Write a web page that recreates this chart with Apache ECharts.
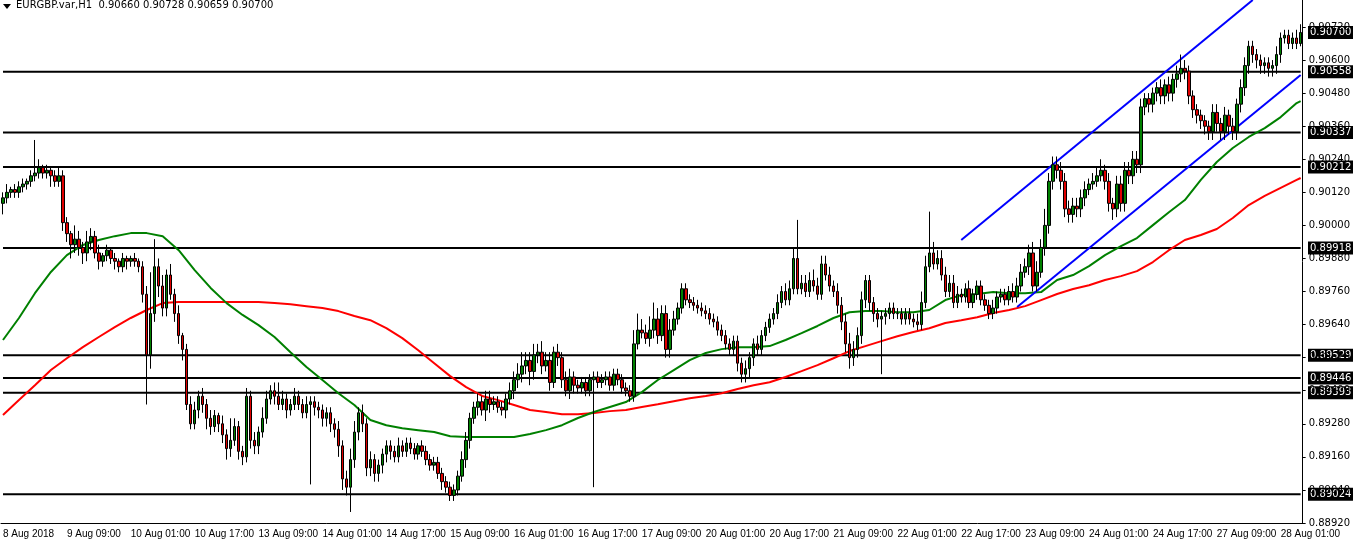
<!DOCTYPE html>
<html><head><meta charset="utf-8">
<script src="https://cdn.jsdelivr.net/npm/echarts@6/dist/echarts.min.js"></script>
<style>html,body{margin:0;padding:0;background:#fff}#c{width:1353px;height:546px}</style>
</head><body><div id="c"></div>
<script>
const tickLabels = ["8 Aug 2018","9 Aug 09:00","10 Aug 01:00","10 Aug 17:00","13 Aug 09:00","14 Aug 01:00","14 Aug 17:00","15 Aug 09:00","16 Aug 01:00","16 Aug 17:00","17 Aug 09:00","20 Aug 01:00","20 Aug 17:00","21 Aug 09:00","22 Aug 01:00","22 Aug 17:00","23 Aug 09:00","24 Aug 01:00","24 Aug 17:00","27 Aug 09:00","28 Aug 01:00"];
const firstOpen = 0.9008;
const closes = [
0.9010,0.9012,0.9013,0.9012,0.9014,0.9015,0.9016,0.9018,0.9019,0.9021,0.9019,0.9020,0.9018,0.9016,0.9018,0.9001,
0.8997,0.8993,0.8995,0.8992,0.8990,0.8994,0.8996,0.8990,0.8987,0.8989,0.8991,0.8988,0.8987,0.8985,0.8988,0.8987,
0.8988,0.8987,0.8985,0.8975,0.8953,0.8968,0.8985,0.8978,0.8970,0.8982,0.8975,0.8968,0.8960,0.8955,0.8935,0.8928,
0.8933,0.8938,0.8935,0.8930,0.8927,0.8931,0.8928,0.8924,0.8919,0.8922,0.8927,0.8918,0.8916,0.8938,0.8922,0.8920,
0.8925,0.8930,0.8937,0.8940,0.8938,0.8935,0.8937,0.8933,0.8935,0.8938,0.8935,0.8932,0.8935,0.8936,0.8934,0.8933,
0.8930,0.8932,0.8928,0.8926,0.8920,0.8908,0.8905,0.8915,0.8925,0.8932,0.8928,0.8912,0.8915,0.8910,0.8913,0.8917,
0.8920,0.8918,0.8916,0.8920,0.8918,0.8921,0.8919,0.8917,0.8920,0.8918,0.8915,0.8913,0.8914,0.8910,0.8907,0.8905,
0.8902,0.8904,0.8909,0.8915,0.8922,0.8930,0.8934,0.8936,0.8933,0.8937,0.8935,0.8936,0.8934,0.8933,0.8937,0.8940,
0.8944,0.8946,0.8949,0.8951,0.8947,0.8953,0.8954,0.8949,0.8951,0.8943,0.8954,0.8952,0.8944,0.8940,0.8945,0.8942,
0.8941,0.8943,0.8940,0.8944,0.8945,0.8943,0.8944,0.8945,0.8942,0.8946,0.8944,0.8941,0.8940,0.8938,0.8957,0.8962,
0.8961,0.8959,0.8962,0.8966,0.8960,0.8968,0.8955,0.8962,0.8966,0.8970,0.8977,0.8973,0.8972,0.8971,0.8970,0.8969,
0.8968,0.8966,0.8965,0.8962,0.8960,0.8957,0.8955,0.8958,0.8950,0.8946,0.8948,0.8952,0.8957,0.8955,0.8960,0.8963,
0.8966,0.8968,0.8972,0.8976,0.8973,0.8977,0.8988,0.8977,0.8979,0.8976,0.8980,0.8978,0.8975,0.8986,0.8982,0.8978,
0.8976,0.8971,0.8965,0.8957,0.8952,0.8955,0.8960,0.8973,0.8980,0.8972,0.8968,0.8966,0.8967,0.8968,0.8970,0.8968,
0.8968,0.8966,0.8968,0.8966,0.8965,0.8964,0.8972,0.8985,0.8990,0.8986,0.8988,0.8982,0.8976,0.8979,0.8972,0.8975,
0.8974,0.8977,0.8972,0.8975,0.8978,0.8973,0.8971,0.8968,0.8970,0.8974,0.8975,0.8973,0.8976,0.8974,0.8978,0.8983,
0.8985,0.8990,0.8978,0.8983,0.8992,0.9000,0.9016,0.9022,0.9020,0.9016,0.9006,0.9004,0.9007,0.9006,0.9010,0.9013,
0.9015,0.9016,0.9018,0.9020,0.9016,0.9008,0.9006,0.9015,0.9008,0.9020,0.9018,0.9024,0.9022,0.9043,0.9046,0.9044,
0.9048,0.9050,0.9047,0.9051,0.9048,0.9053,0.9055,0.9057,0.9056,0.9047,0.9042,0.9040,0.9038,0.9036,0.9034,0.9041,
0.9037,0.9034,0.9040,0.9036,0.9034,0.9044,0.9050,0.9058,0.9065,0.9062,0.9060,0.9058,0.9059,0.9057,0.9058,0.9062,
0.9068,0.9069,0.9066,0.9068,0.9066,0.9070];
const upperWickPips = [
2,3,1,2,2,2,1,2,12,3,1,2,1,2,3,2, 2,1,5,3,2,4,3,2,3,1,2,1,2,1,2,1,
1,2,1,2,3,15,10,3,4,2,4,2,3,1,2,3, 3,2,3,2,3,2,1,3,2,8,3,2,2,3,2,3,
2,4,3,2,3,5,3,2,2,3,2,2,3,2,2,2, 2,2,2,2,3,2,3,4,4,2,3,2,3,2,2,2,
2,2,2,3,2,2,2,2,1,2,2,2,2,2,2,2, 2,2,2,3,3,2,2,3,2,3,3,2,2,2,2,3,
3,4,5,3,3,4,3,4,3,3,2,3,2,3,3,2, 2,2,2,2,2,2,2,2,2,2,2,2,2,2,5,6,
4,3,5,6,4,3,3,4,3,2,2,2,2,2,2,2, 2,2,2,2,2,2,2,2,2,2,3,2,2,3,2,2,
2,2,3,2,3,3,4,14,3,3,3,4,3,3,3,3, 2,3,3,3,4,3,3,3,2,2,2,2,2,2,2,2,
2,2,2,2,2,3,4,4,15,4,3,3,3,3,3,3, 2,2,3,2,2,2,2,2,3,2,2,2,2,3,3,3,
3,3,4,4,3,6,3,3,3,3,3,3,3,3,3,3, 2,3,3,4,2,3,2,3,3,3,3,3,3,3,2,2,
2,2,3,2,3,2,3,5,3,2,2,2,2,2,2,3, 3,2,3,2,3,2,3,3,2,2,2,2,2,2,2,3,
2,2,2,2,3,3];
const lowerWickPips = [
4,2,2,2,2,2,2,2,2,2,2,2,4,2,2,3, 3,5,3,3,4,3,3,2,3,2,2,2,3,2,2,3,
2,2,2,3,18,5,3,4,3,3,2,3,3,4,2,2, 2,3,3,4,3,2,3,3,4,3,2,3,3,2,3,3,
3,2,2,2,3,2,2,3,2,2,2,2,2,29,3,3, 3,3,3,3,4,4,3,9,3,3,3,3,3,3,3,3,
3,3,2,2,2,2,2,2,2,2,2,2,2,2,3,2, 2,2,2,2,3,3,2,3,2,4,3,2,2,2,3,2,
3,3,3,3,5,3,3,3,2,3,2,3,3,2,3,3, 2,2,2,2,39,2,2,2,2,2,2,2,2,2,2,2,
2,2,3,3,3,2,3,3,2,2,2,2,2,2,2,2, 2,2,2,2,2,2,2,2,3,3,3,3,3,2,2,2,
2,2,2,2,2,2,2,2,2,2,2,2,2,2,2,2, 2,3,3,3,4,3,3,3,3,3,3,3,20,3,2,2,
2,2,2,2,2,2,2,2,2,2,2,2,2,2,2,2, 2,2,2,2,2,2,2,2,2,2,2,2,2,2,2,2,
2,3,2,2,2,3,3,3,3,3,3,3,3,3,3,3, 2,2,2,2,3,3,4,3,3,3,3,3,3,3,3,3,
3,3,3,3,3,3,3,3,3,3,3,3,3,3,3,3, 3,3,3,3,3,3,3,3,3,3,3,3,3,3,3,3,
3,2,2,2,2,1];
const maIdx = [0,4,8,12,16,20,24,28,32,36,40,44,48,52,56,60,64,68,72,76,80,84,88,92,96,100,104,108,112,116,120,124,128,132,136,140,144,148,152,156,160,164,168,172,176,180,184,188,192,196,200,204,208,212,216,220,224,228,232,236,240,244,248,252,256,260,264,268,272,276,280,284,288,292,296,300,304,308,312,316,320,324,325];
const maGreen = [0.89584,0.89664,0.89754,0.89831,0.89892,0.89929,0.89947,0.89961,0.89972,0.89972,0.89961,0.89910,0.89838,0.89773,0.89718,0.89675,0.89638,0.89595,0.89540,0.89486,0.89439,0.89391,0.89348,0.89294,0.89275,0.89264,0.89257,0.89250,0.89235,0.89232,0.89232,0.89232,0.89232,0.89243,0.89257,0.89275,0.89301,0.89323,0.89341,0.89359,0.89395,0.89439,0.89475,0.89511,0.89537,0.89551,0.89558,0.89558,0.89562,0.89584,0.89609,0.89635,0.89664,0.89685,0.89689,0.89689,0.89685,0.89685,0.89693,0.89729,0.89747,0.89751,0.89758,0.89754,0.89754,0.89758,0.89802,0.89820,0.89852,0.89892,0.89925,0.89954,0.90001,0.90048,0.90092,0.90165,0.90230,0.90281,0.90321,0.90353,0.90393,0.90444,0.90451];
const maRed = [0.89312,0.89366,0.89420,0.89475,0.89518,0.89558,0.89595,0.89631,0.89664,0.89693,0.89718,0.89722,0.89722,0.89722,0.89722,0.89722,0.89722,0.89718,0.89714,0.89707,0.89700,0.89689,0.89671,0.89656,0.89627,0.89591,0.89547,0.89500,0.89453,0.89413,0.89381,0.89366,0.89348,0.89330,0.89323,0.89315,0.89315,0.89319,0.89326,0.89330,0.89341,0.89351,0.89362,0.89373,0.89381,0.89391,0.89406,0.89420,0.89431,0.89450,0.89471,0.89493,0.89518,0.89544,0.89562,0.89580,0.89598,0.89613,0.89627,0.89646,0.89656,0.89667,0.89682,0.89693,0.89707,0.89729,0.89751,0.89769,0.89783,0.89802,0.89816,0.89834,0.89867,0.89910,0.89947,0.89965,0.89987,0.90027,0.90074,0.90107,0.90136,0.90165,0.90172];
const channelUpper = [[240,0.89947],[313,0.90818]];
const channelLower = [[254,0.89704],[325,0.90546]];
const levels = [0.90558,0.90337,0.90212,0.89918,0.89529,0.89446,0.89393,0.89024];
const lastPrice = 0.90700;

const cats = closes.map((_, i) => i);
const ohlc = closes.map((c, i) => {
  const o = i === 0 ? firstOpen : closes[i-1];
  const hi = Math.max(o, c) + upperWickPips[i] * 0.0001;
  const lo = Math.min(o, c) - lowerWickPips[i] * 0.0001;
  return [o, c, +lo.toFixed(5), +hi.toFixed(5)];
});
const pairs = (arr) => maIdx.map((ix, k) => [ix, arr[k]]);
const F = 'Tahoma, "DejaVu Sans", sans-serif';
const priceBox = (v) => ({type:'text', style:{text:v.toFixed(5), fill:'#fff', backgroundColor:'#000', padding:[2,2,1,2], font:'10px '+F, textVerticalAlign:'middle'}});

const chart = echarts.init(document.getElementById('c'), null, {renderer:'canvas'});
const levelSeries = levels.map(v => ({type:'line', data:[[0,v],[325,v]], showSymbol:false, silent:true, z:1,
  lineStyle:{color:'#000', width:2}}));
chart.setOption({
  animation:false,
  backgroundColor:'#fff',
  grid:{left:0, right:47, top:0, bottom:23},
  xAxis:{type:'category', data:cats, boundaryGap:true,
    axisLine:{lineStyle:{color:'#000'}}, axisTick:{show:false},
    axisLabel:{interval:15, color:'#000', fontFamily:'"Liberation Sans", sans-serif', fontSize:10, align:'left', margin:6,
      formatter:(v)=>{const k=Math.round(v/16); return tickLabels[k]||'';}},
    splitLine:{show:false}},
  yAxis:{type:'value', position:'right', min:0.8892, max:0.90818, interval:0.0012,
    axisLine:{show:true, lineStyle:{color:'#000'}}, axisTick:{show:true, length:3, lineStyle:{color:'#000'}},
    axisLabel:{color:'#000', fontFamily:F, fontSize:10, margin:6, formatter:(v)=>v.toFixed(5), showMaxLabel:false},
    splitLine:{show:false}},
  series:levelSeries.concat([
    {type:'line', data:pairs(maRed), showSymbol:false, lineStyle:{color:'#ff0000', width:2}, z:2, silent:true},
    {type:'line', data:pairs(maGreen), showSymbol:false, lineStyle:{color:'#008000', width:2}, z:2, silent:true},
    {type:'line', data:channelUpper, showSymbol:false, lineStyle:{color:'#0000ff', width:2}, z:2, silent:true},
    {type:'line', data:channelLower, showSymbol:false, lineStyle:{color:'#0000ff', width:2}, z:2, silent:true},
    {type:'candlestick', data:ohlc, barWidth:3, z:3,
      itemStyle:{color:'#008000', color0:'#e00000', borderColor:'#000', borderColor0:'#000', borderWidth:1}}
  ]),
  graphic:[
    {type:'polygon', shape:{points:[[3,4],[11,4],[7,9]]}, style:{fill:'#000'}},
    {type:'text', left:16, top:0, style:{text:'EURGBP.var,H1  0.90660 0.90728 0.90659 0.90700', fill:'#000', font:'10px '+F}}
  ]
});
// price boxes placed at the axis positions of the level values
const boxes = levels.concat([lastPrice]).map(v => {
  const p = chart.convertToPixel({yAxisIndex:0}, v);
  return Object.assign(priceBox(v), {x:1308, y:p});
});
chart.setOption({graphic: [
  {type:'polygon', shape:{points:[[3,4],[11,4],[7,9]]}, style:{fill:'#000'}},
  {type:'text', left:16, top:0, style:{text:'EURGBP.var,H1  0.90660 0.90728 0.90659 0.90700', fill:'#000', font:'10px '+F}}
].concat(boxes)}, {replaceMerge:['graphic']});
</script></body></html>
